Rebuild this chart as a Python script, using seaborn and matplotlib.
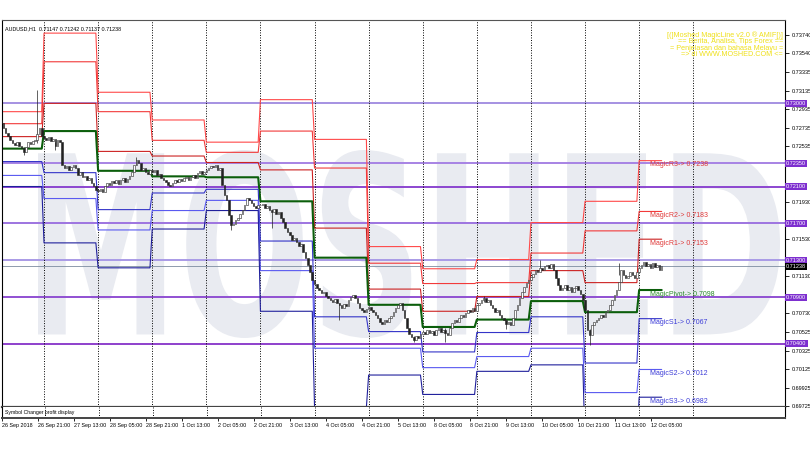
import numpy as np
import pandas as pd
import seaborn as sns
import matplotlib.pyplot as plt
from matplotlib.textpath import TextPath
from matplotlib.patches import PathPatch
from matplotlib.font_manager import FontProperties
from matplotlib.transforms import Affine2D

sns.set_theme(style='white')
plt.rcParams['font.family'] = ['Liberation Sans', 'DejaVu Sans']

# H1 closes in pips (x 0.0001), one list per trading day, first bar = 26 Sep 05:00
first_open = 7282
close_26sep = [7279, 7273, 7268, 7265, 7260, 7257, 7255, 7258, 7254, 7252, 7247, 7253, 7258, 7256, 7259, 7260, 7267, 7273, 7265]
close_27sep = [7263, 7260, 7264, 7259, 7261, 7254, 7260, 7258, 7233, 7230, 7232, 7228, 7231, 7233, 7230, 7222, 7226, 7220, 7221, 7217, 7219, 7214, 7211, 7206]
close_28sep = [7205, 7207, 7204, 7211, 7214, 7212, 7216, 7214, 7217, 7213, 7217, 7219, 7215, 7218, 7221, 7226, 7233, 7239, 7235, 7228, 7230, 7226, 7224, 7228]
close_01oct = [7226, 7228, 7222, 7224, 7219, 7217, 7215, 7212, 7211, 7214, 7217, 7215, 7218, 7216, 7219, 7220, 7217, 7220, 7222, 7219, 7225, 7227, 7224, 7226]
close_02oct = [7228, 7230, 7232, 7231, 7233, 7228, 7230, 7212, 7201, 7195, 7179, 7168, 7169, 7174, 7176, 7180, 7185, 7190, 7198, 7195, 7192, 7189, 7187, 7190]
close_03oct = [7190, 7191, 7187, 7189, 7185, 7182, 7186, 7180, 7182, 7176, 7172, 7165, 7161, 7157, 7152, 7154, 7150, 7146, 7148, 7139, 7133, 7125, 7118, 7109]
close_04oct = [7105, 7100, 7098, 7095, 7096, 7092, 7089, 7087, 7085, 7088, 7084, 7082, 7079, 7083, 7081, 7087, 7090, 7093, 7089, 7084, 7079, 7076, 7074, 7077]
close_05oct = [7080, 7076, 7074, 7071, 7068, 7063, 7061, 7066, 7063, 7068, 7070, 7074, 7079, 7082, 7084, 7076, 7068, 7057, 7050, 7047, 7044, 7048, 7046, 7050]
close_08oct = [7053, 7050, 7055, 7051, 7054, 7049, 7055, 7057, 7053, 7055, 7051, 7049, 7057, 7062, 7066, 7063, 7068, 7071, 7069, 7073, 7076, 7074, 7079, 7075]
close_09oct = [7082, 7084, 7087, 7089, 7085, 7087, 7082, 7079, 7074, 7076, 7071, 7068, 7066, 7061, 7063, 7060, 7068, 7076, 7082, 7089, 7096, 7101, 7106, 7109]
close_10oct = [7112, 7115, 7120, 7118, 7122, 7120, 7124, 7125, 7122, 7126, 7120, 7111, 7103, 7098, 7100, 7103, 7098, 7101, 7096, 7100, 7102, 7098, 7094, 7087]
close_11oct = [7076, 7055, 7049, 7060, 7063, 7066, 7068, 7071, 7069, 7074, 7076, 7082, 7087, 7093, 7098, 7107, 7120, 7114, 7111, 7113, 7118, 7114, 7111, 7118]
close_12oct = [7122, 7125, 7128, 7124, 7126, 7122, 7127, 7123, 7125, 7120, 7124]

# bars with visible long wicks
spike_bar = [10, 16, 24, 60, 102, 120, 150, 183, 197, 214, 224, 239, 261, 274]
spike_hi = [7253, 7314, 7258, 7242, 7170, 7186, 7084, 7048, 7057, 7092, 7063, 7130, 7056, 7127]
spike_lo = [7244, 7257, 7250, 7233, 7163, 7165, 7066, 7042, 7042, 7085, 7056, 7122, 7038, 7114]

# daily Magic levels, 26 Sep .. 12 Oct
day_start = [0, 19, 43, 67, 91, 115, 139, 163, 187, 211, 235, 259, 283]
r3 = [0.7291, 0.7376, 0.7312, 0.7282, 0.7258, 0.7304, 0.7261, 0.7145, 0.7121, 0.7131, 0.7171, 0.7194, 0.7238]
r2 = [0.7278, 0.7345, 0.7291, 0.7260, 0.7247, 0.7270, 0.7230, 0.7127, 0.7105, 0.7106, 0.7138, 0.7162, 0.7183]
r1 = [0.7264, 0.7300, 0.7248, 0.7243, 0.7236, 0.7228, 0.7165, 0.7099, 0.7075, 0.7091, 0.7119, 0.7106, 0.7153]
pv = [0.7251, 0.7270, 0.7227, 0.7221, 0.7220, 0.7194, 0.7133, 0.7082, 0.7058, 0.7066, 0.7086, 0.7074, 0.7098]
s1 = [0.7237, 0.7225, 0.7185, 0.7203, 0.7207, 0.7151, 0.7069, 0.7053, 0.7031, 0.7052, 0.7069, 0.7019, 0.7067]
s2 = [0.7222, 0.7197, 0.7163, 0.7184, 0.7195, 0.7119, 0.7035, 0.7035, 0.7014, 0.7026, 0.7035, 0.6987, 0.7012]
s3 = [0.7210, 0.7149, 0.7122, 0.7164, 0.7184, 0.7075, 0.6971, 0.7006, 0.6985, 0.7010, 0.7017, 0.6932, 0.6982]
level_names = ['MagicR3', 'MagicR2', 'MagicR1', 'MagicPivot', 'MagicS1', 'MagicS2', 'MagicS3']

# horizontal round-number lines
hlines = [0.7300, 0.7235, 0.7210, 0.7170, 0.7130, 0.7090, 0.7040]
hline_colors = ['#a592e2', '#a783e4', '#8c46d0', '#9d74e0', '#a99ae6', '#9050d2', '#8e40cc']
last_price = 0.71238

ytick_vals = [0.73740, 0.73540, 0.73335, 0.73135, 0.72935, 0.72735, 0.72535, 0.71930, 0.71530,
              0.71130, 0.70730, 0.70525, 0.70325, 0.70125, 0.69925, 0.69725]
xtick_bars = list(range(0, 289, 16))
xtick_labels = ['26 Sep 2018', '26 Sep 21:00', '27 Sep 13:00', '28 Sep 05:00', '28 Sep 21:00',
                '1 Oct 13:00', '2 Oct 05:00', '2 Oct 21:00', '3 Oct 13:00', '4 Oct 05:00',
                '4 Oct 21:00', '5 Oct 13:00', '8 Oct 05:00', '8 Oct 21:00', '9 Oct 13:00',
                '10 Oct 05:00', '10 Oct 21:00', '11 Oct 13:00', '12 Oct 05:00']
sep_bars = list(range(19, 308, 24))

info_lines = ['[(]Moshed MagicLine v2.0 ® AMIF[)]', '== Berita, Analisa, Tips Forex ==',
              '= Penjelasan dan bahasa Melayu =', '=> di WWW.MOSHED.COM <=']

# ---- build candles
closes = np.array(close_26sep + close_27sep + close_28sep + close_01oct + close_02oct + close_03oct
                  + close_04oct + close_05oct + close_08oct + close_09oct + close_10oct + close_11oct
                  + close_12oct) / 10000
opens = np.concatenate([[first_open / 10000], closes[:-1]])
bars = np.arange(len(closes))
candles = pd.DataFrame({'bar': bars, 'open': opens, 'close': closes})
last_bar = bars[-1]

fig = plt.figure(figsize=(8.1, 4.5), dpi=100, facecolor='white')
W, H = 810, 450
ax = fig.add_axes([2 / W, 1 - 407 / H, 783 / W, 387 / H])
sub = fig.add_axes([2 / W, 1 - 418 / H, 783 / W, 11 / H])

xlim = (0.36, 347.7)
ax.set_xlim(*xlim)
ax.set_ylim(0.69714, 0.73902)
sub.set_xlim(*xlim)
sub.set_ylim(0, 1)

# watermark
tp = TextPath((0, 0), 'MOSHED', size=1, prop=FontProperties(family='DejaVu Sans', weight='bold'))
ext = tp.get_extents()
x0, x1, y0, y1 = 38, 780, 150, 338
aff = (Affine2D().translate(-ext.x0, -ext.y0)
       .scale((x1 - x0) / W / ext.width, (y1 - y0) / H / ext.height)
       .translate(x0 / W, 1 - y1 / H))
ax.add_patch(PathPatch(tp, transform=aff + fig.transFigure, fc='#e9ebf1', ec='none', zorder=0))

for v, c in zip(hlines, hline_colors):
    ax.axhline(v, color=c, lw=1.4, zorder=1)
ax.axhline(last_price, color='#7d8ca0', lw=0.6, zorder=1)

for b in sep_bars:
    for a in (ax, sub):
        a.axvline(b, color='black', lw=0.7, ls=(0, (1, 1.6)), zorder=1.5)


def step_path(vals):
    xs, ys = [], []
    ends = day_start[1:] + [last_bar + 1]
    for s, e, v in zip(day_start, ends, vals):
        xs += [s, e - 1]
        ys += [v, v]
    return xs, ys


styles = [(r3, '#ff4a4a', 0.8), (r2, '#f23a3a', 0.8), (r1, '#cc2222', 0.8),
          (pv, '#0b5e0b', 1.5), (s1, '#3434c8', 0.8), (s2, '#5a5af0', 0.8), (s3, '#20209c', 0.8)]
for vals, col, lw in styles:
    xs, ys = step_path(vals)
    sns.lineplot(x=xs, y=ys, ax=ax, color=col, lw=lw, sort=False, estimator=None, zorder=2)

# candles
ax.vlines(spike_bar, np.array(spike_lo) / 10000, np.array(spike_hi) / 10000, color='#222222', lw=0.5, zorder=3)
up = candles[candles['close'] >= candles['open']]
dn = candles[candles['close'] < candles['open']]
ax.bar(dn['bar'], dn['close'] - dn['open'], bottom=dn['open'], width=0.7, color='#222222',
       edgecolor='#222222', linewidth=0.4, zorder=3)
ax.bar(up['bar'], up['close'] - up['open'], bottom=up['open'], width=0.7, color='white',
       edgecolor='#222222', linewidth=0.4, zorder=3)

# level labels on the current day
label_cols = ['#e03a3a', '#e03a3a', '#e03a3a', '#2a8a2a', '#3c3cd8', '#3c3cd8', '#3c3cd8']
for name, vals, col in zip(level_names, [r3, r2, r1, pv, s1, s2, s3], label_cols):
    ax.annotate(f'{name}-> {vals[-1]:.4f}', xy=(288, vals[-1]), xytext=(0, -4),
                textcoords='offset pixels', fontsize=5, color=col, va='center', ha='left', zorder=4)

# axes styling
ax.yaxis.tick_right()
ax.set_yticks(ytick_vals)
ax.set_yticklabels([f'{v:.5f}' for v in ytick_vals])
ax.tick_params(axis='y', right=True, length=3, width=0.6, labelsize=4.0, pad=1.5, colors='black')
ax.set_xticks([])
for sp in ax.spines.values():
    sp.set_color('black')
    sp.set_linewidth(0.8)
ax.spines['bottom'].set_color('#444444')
ax.spines['bottom'].set_linewidth(1.6)
ax.spines['top'].set_color('#555555')

for v in hlines:
    ax.text(1.0015, v, f'{v:.5f}', transform=ax.get_yaxis_transform(), fontsize=4.0, color='white',
            ha='left', va='center', clip_on=False, zorder=5,
            bbox=dict(boxstyle='square,pad=0.18', fc='#7d2fcf', ec='none'))
ax.text(1.0015, last_price - 0.00004, f'{last_price:.5f}', transform=ax.get_yaxis_transform(), fontsize=4.0,
        color='white', ha='left', va='center', clip_on=False, zorder=5,
        bbox=dict(boxstyle='square,pad=0.18', fc='black', ec='none'))

sub.set_yticks([])
sub.set_xticks(xtick_bars)
sub.set_xticklabels(xtick_labels, ha='left')
sub.tick_params(axis='x', bottom=True, length=2.5, width=0.6, labelsize=3.9, pad=1, colors='black')
for sp in sub.spines.values():
    sp.set_color('black')
    sp.set_linewidth(0.8)
sub.spines['bottom'].set_color('#444444')
sub.spines['bottom'].set_linewidth(1.4)
sub.spines['top'].set_visible(False)
sub.text(0.004, 0.5, 'Symbol Changer profit display', transform=sub.transAxes, fontsize=3.7,
         va='center', ha='left', color='black')

ax.text(0.004, 0.985, 'AUDUSD,H1  0.71147 0.71242 0.71137 0.71238', transform=ax.transAxes,
        fontsize=3.9, va='top', ha='left', color='black', zorder=5)
for i, line in enumerate(info_lines):
    ax.text(0.9975, 0.97 - i * 0.0168, line, transform=ax.transAxes, fontsize=5.2,
            color='#efe01a', ha='right', va='top', zorder=5)

fig.savefig('out.png', dpi=100, facecolor='white')
